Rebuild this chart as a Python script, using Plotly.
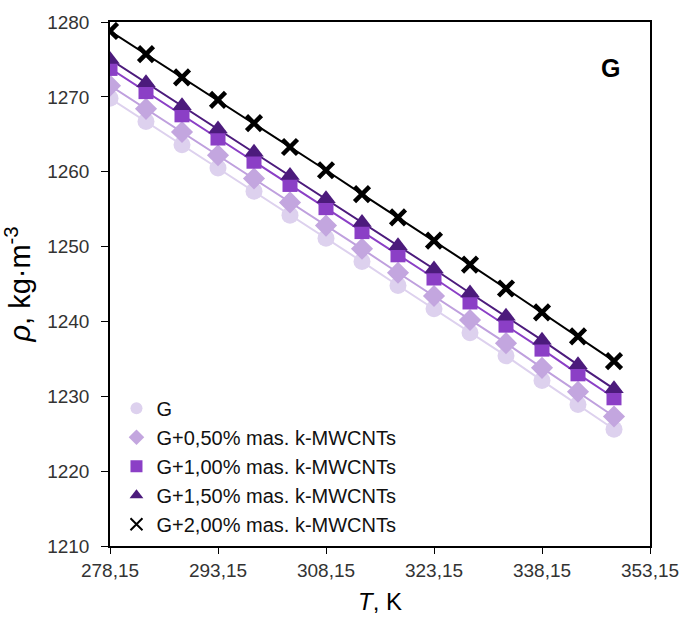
import plotly.graph_objects as go

# Temperature points, K
temperature = [278.15, 283.15, 288.15, 293.15, 298.15, 303.15, 308.15, 313.15,
               318.15, 323.15, 328.15, 333.15, 338.15, 343.15, 348.15]

# Density, kg/m^3
rho_g = [1269.8, 1266.7, 1263.6, 1260.5, 1257.4, 1254.2, 1251.1, 1248.0,
         1244.8, 1241.7, 1238.5, 1235.4, 1232.1, 1228.9, 1225.6]
rho_050 = [1271.5, 1268.4, 1265.3, 1262.2, 1259.1, 1255.9, 1252.8, 1249.7,
           1246.5, 1243.4, 1240.2, 1237.1, 1233.8, 1230.6, 1227.3]
rho_100 = [1273.8, 1270.7, 1267.6, 1264.5, 1261.4, 1258.3, 1255.2, 1252.0,
           1248.9, 1245.8, 1242.6, 1239.5, 1236.3, 1233.0, 1229.8]
rho_150 = [1275.0, 1271.9, 1268.8, 1265.7, 1262.6, 1259.5, 1256.4, 1253.2,
           1250.1, 1247.0, 1243.8, 1240.7, 1237.5, 1234.2, 1231.0]
rho_200 = [1278.8, 1275.7, 1272.6, 1269.6, 1266.5, 1263.3, 1260.2, 1257.0,
           1253.9, 1250.8, 1247.6, 1244.4, 1241.2, 1238.0, 1234.7]

series_names = ["G",
                "G+0,50% mas. k-MWCNTs",
                "G+1,00% mas. k-MWCNTs",
                "G+1,50% mas. k-MWCNTs",
                "G+2,00% mas. k-MWCNTs"]

x_ticks = [278.15, 293.15, 308.15, 323.15, 338.15, 353.15]
x_tick_text = ["278,15", "293,15", "308,15", "323,15", "338,15", "353,15"]
y_ticks = [1210, 1220, 1230, 1240, 1250, 1260, 1270, 1280]

series = [rho_g, rho_050, rho_100, rho_150, rho_200]
colors = ["#ddd1ee", "#c3a6df", "#8b3fc6", "#4c1b7c", "#000000"]
line_colors = ["#ddd1ee", "#bfa0de", "#8b3fc6", "#4c1b7c", "#000000"]
symbols = ["circle", "diamond", "square", "triangle-up", "x-thin"]
sizes = [17, 17, 15, 17, 15]

fig = go.Figure()

# trend lines
for ys, lc in zip(series, line_colors):
    fig.add_trace(go.Scatter(x=temperature, y=ys, mode="lines",
                             line=dict(color=lc, width=2),
                             showlegend=False, hoverinfo="skip"))

# markers
for ys, name, c, sym, sz in zip(series, series_names, colors, symbols, sizes):
    if sym == "x-thin":
        marker = dict(symbol=sym, size=sz, line=dict(color=c, width=4.5))
    else:
        marker = dict(symbol=sym, size=sz, color=c, line=dict(width=0))
    fig.add_trace(go.Scatter(x=temperature, y=ys, mode="markers", name=name,
                             marker=marker))

fig.add_annotation(x=0.926, y=0.912, xref="paper", yref="paper",
                   xanchor="center", yanchor="middle",
                   text="<b>G</b>", showarrow=False,
                   font=dict(size=25, color="#000000", family="Liberation Sans"))

fig.update_layout(
    width=684, height=618,
    margin=dict(l=110, r=34, t=22, b=72),
    paper_bgcolor="white", plot_bgcolor="white",
    font=dict(family="Liberation Sans, Arial, sans-serif", color="#000000"),
    legend=dict(x=0.012, y=0.3, xanchor="left", yanchor="top",
                bgcolor="rgba(0,0,0,0)", font=dict(size=20, color="#111111"),
                itemsizing="constant", tracegroupgap=0),
    xaxis=dict(range=[278.15, 353.15], tickvals=x_ticks, ticktext=x_tick_text,
               automargin=False,
               showgrid=False, zeroline=False, showline=True, linecolor="#000000",
               linewidth=1.5, mirror=True, ticks="outside", ticklen=6,
               tickcolor="#000000", tickfont=dict(size=19, color="#333333"),
               title=dict(text="<i>T</i>, K", font=dict(size=24), standoff=14)),
    yaxis=dict(range=[1210, 1280], tickvals=y_ticks,
               automargin=False,
               showgrid=False, zeroline=False, showline=True, linecolor="#000000",
               linewidth=1.5, mirror=True, ticks="outside", ticklen=7,
               ticklabelstandoff=8,
               tickcolor="#000000", tickfont=dict(size=19, color="#333333"),
               title=dict(text="<i>ρ</i>, kg·m<sup>-3</sup>", font=dict(size=29),
                          standoff=10)),
)

fig.write_html("out.html")
